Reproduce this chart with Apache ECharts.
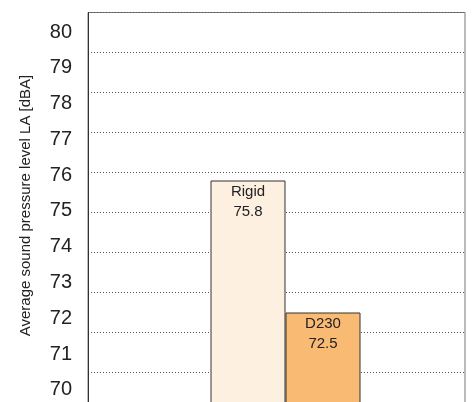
<!DOCTYPE html>
<html>
<head>
<meta charset="utf-8">
<script src="https://cdn.jsdelivr.net/npm/echarts@6/dist/echarts.min.js"></script>
<style>
  html, body { margin: 0; padding: 0; background: #fff; }
  #chart { width: 473px; height: 402px; }
</style>
</head>
<body>
<div id="chart"></div>
<script>
// Average sound pressure level per configuration
const categories = ['Rigid', 'D230'];
const levels = [75.8, 72.5];
const tickLabels = [70, 71, 72, 73, 74, 75, 76, 77, 78, 79, 80];
const barColors = ['#FDF0E1', '#F9BA74'];

const font = 'Liberation Sans, Arial, Helvetica, sans-serif';
const chart = echarts.init(document.getElementById('chart'), null, { renderer: 'canvas' });

chart.setOption({
  animation: false,
  backgroundColor: '#ffffff',
  grid: [
    // framed plotting area
    { left: 88, top: 12.5, width: 377, height: 400, show: true, borderColor: '#777', borderWidth: 1,
      containLabel: false, outerBoundsMode: 'none' },
    // bar placement area
    { left: 210.5, top: 12.5, width: 150, height: 400, show: false,
      containLabel: false, outerBoundsMode: 'none' }
  ],
  xAxis: [
    { gridIndex: 0, type: 'category', data: [''], show: false },
    { gridIndex: 1, type: 'category', data: categories, show: false }
  ],
  yAxis: [
    {
      gridIndex: 0, type: 'value', position: 'left', min: 70, max: 80, interval: 1,
      axisLabel: { show: false }, axisTick: { show: false },
      axisLine: { show: true, lineStyle: { color: '#333', width: 1 } },
      splitLine: { show: true, lineStyle: { color: '#555', width: 1, type: [1, 2] } }
    },
    {
      gridIndex: 0, type: 'value', position: 'left', min: 69.366, max: 80.545,
      axisLine: { show: false }, axisTick: { show: false }, splitLine: { show: false },
      axisLabel: {
        customValues: tickLabels, margin: 16, fontSize: 20, color: '#222', fontFamily: font
      },
      name: 'Average sound pressure level LA [dBA]',
      nameLocation: 'middle', nameGap: 55,
      nameTextStyle: { fontSize: 15, color: '#222', fontFamily: font, padding: [0, 0, 0, 14] }
    },
    { gridIndex: 1, type: 'value', min: 70, max: 80, show: false }
  ],
  series: [{
    type: 'bar',
    xAxisIndex: 1,
    yAxisIndex: 2,
    barWidth: '100%',
    data: levels.map((v, i) => ({ value: v, itemStyle: { color: barColors[i] } })),
    itemStyle: { borderColor: '#333', borderWidth: 1 },
    label: {
      show: true, position: 'insideTop', distance: 1,
      formatter: '{b}\n{c}', fontSize: 15, lineHeight: 20, color: '#222', fontFamily: font
    }
  }]
});
</script>
</body>
</html>
